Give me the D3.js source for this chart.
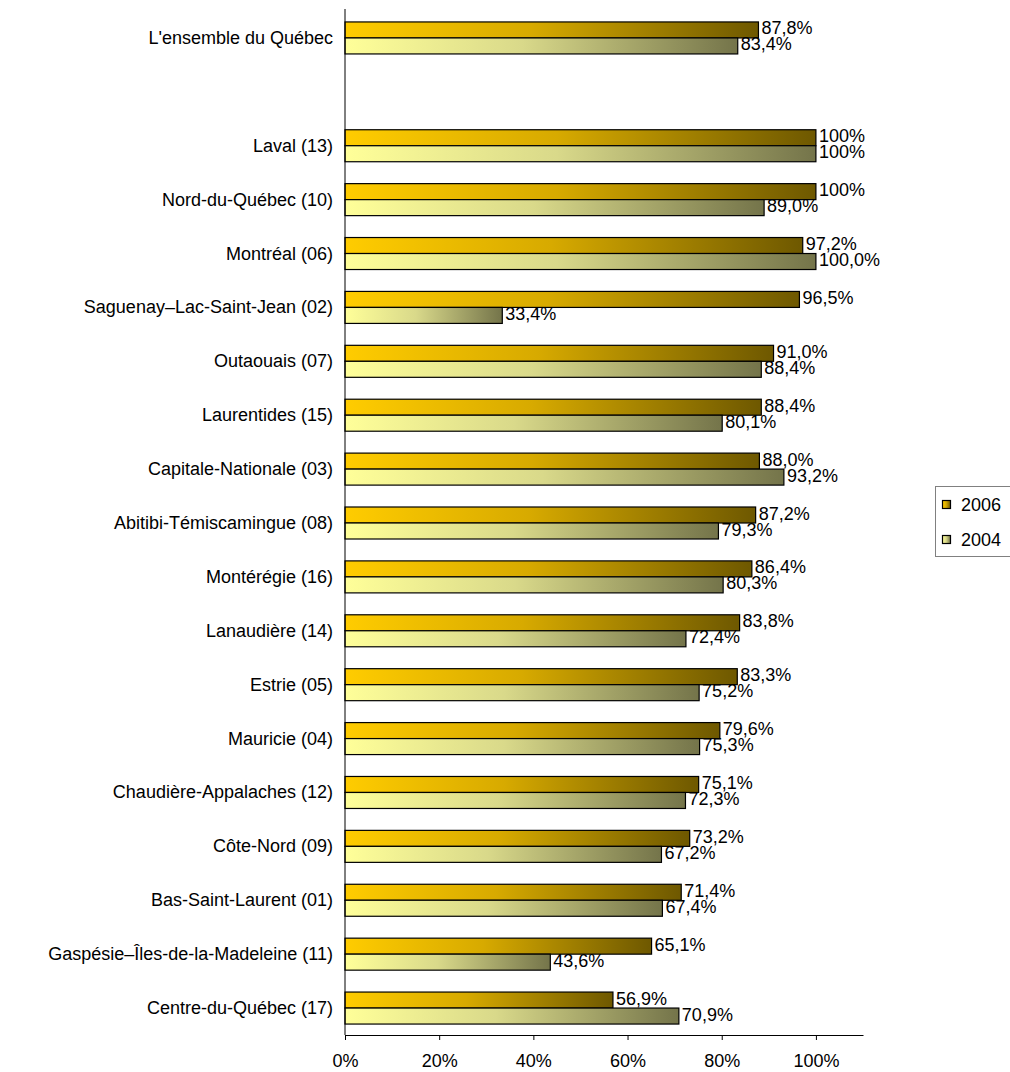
<!DOCTYPE html>
<html>
<head>
<meta charset="utf-8">
<script src="https://cdn.jsdelivr.net/npm/d3@7/dist/d3.min.js"></script>
<style>
  html, body { margin: 0; padding: 0; background: #fff; }
  svg { display: block; font-family: "Liberation Sans", Arial, sans-serif; }
</style>
</head>
<body>
<svg id="chart" width="1010" height="1072"></svg>
<script>
// Regions, top to bottom (an empty slot separates the provincial total)
const categories = [
  "L'ensemble du Québec", "",
  "Laval (13)", "Nord-du-Québec (10)", "Montréal (06)",
  "Saguenay–Lac-Saint-Jean (02)", "Outaouais (07)", "Laurentides (15)",
  "Capitale-Nationale (03)", "Abitibi-Témiscamingue (08)", "Montérégie (16)",
  "Lanaudière (14)", "Estrie (05)", "Mauricie (04)",
  "Chaudière-Appalaches (12)", "Côte-Nord (09)", "Bas-Saint-Laurent (01)",
  "Gaspésie–Îles-de-la-Madeleine (11)", "Centre-du-Québec (17)"
];
const values2006 = [87.8, null, 100, 100, 97.2, 96.5, 91.0, 88.4, 88.0, 87.2, 86.4, 83.8, 83.3, 79.6, 75.1, 73.2, 71.4, 65.1, 56.9];
const values2004 = [83.4, null, 100, 89.0, 100.0, 33.4, 88.4, 80.1, 93.2, 79.3, 80.3, 72.4, 75.2, 75.3, 72.3, 67.2, 67.4, 43.6, 70.9];
const labels2006 = ["87,8%", "", "100%", "100%", "97,2%", "96,5%", "91,0%", "88,4%", "88,0%", "87,2%", "86,4%", "83,8%", "83,3%", "79,6%", "75,1%", "73,2%", "71,4%", "65,1%", "56,9%"];
const labels2004 = ["83,4%", "", "100%", "89,0%", "100,0%", "33,4%", "88,4%", "80,1%", "93,2%", "79,3%", "80,3%", "72,4%", "75,2%", "75,3%", "72,3%", "67,2%", "67,4%", "43,6%", "70,9%"];
const seriesNames = ["2006", "2004"];
const xTicks = [0, 20, 40, 60, 80, 100];

const FONT = 18;
const svg = d3.select("#chart");

// Gradients for the two series (light on the left, dark at the bar end)
const defs = svg.append("defs");
const gradStops = {
  "2006": ["#FFCC00", "#D7AA00", "#6E5800"],
  "2004": ["#FFFF99", "#D9D98A", "#74744A"]
};
seriesNames.forEach(s => {
  const g = defs.append("linearGradient")
    .attr("id", "grad" + s)
    .attr("x1", "0%").attr("x2", "100%").attr("y1", "0%").attr("y2", "0%");
  g.append("stop").attr("offset", "0%").attr("stop-color", gradStops[s][0]);
  g.append("stop").attr("offset", "45%").attr("stop-color", gradStops[s][1]);
  g.append("stop").attr("offset", "100%").attr("stop-color", gradStops[s][2]);
});

const x = d3.scaleLinear().domain([0, 110]).range([345, 863]);
const y = d3.scaleBand().domain(d3.range(categories.length)).range([11, 1035]).padding(0);
const barH = 16;
const sub = d3.scaleBand().domain(seriesNames).range([-barH, barH]);

const rows = categories.map((c, i) => ({
  i, name: c,
  bars: [
    { s: "2006", v: values2006[i], label: labels2006[i] },
    { s: "2004", v: values2004[i], label: labels2004[i] }
  ]
}));

// Category labels
svg.append("g").selectAll("text")
  .data(rows)
  .join("text")
  .attr("x", 333)
  .attr("y", d => y(d.i) + y.bandwidth() / 2)
  .attr("text-anchor", "end")
  .attr("dominant-baseline", "central")
  .attr("font-size", FONT)
  .attr("fill", "#000")
  .text(d => d.name);

// Bars
const groups = svg.append("g").selectAll("g")
  .data(rows.filter(r => r.bars[0].v !== null))
  .join("g")
  .attr("transform", d => `translate(0,${y(d.i) + y.bandwidth() / 2})`);

groups.selectAll("rect")
  .data(d => d.bars)
  .join("rect")
  .attr("x", x(0))
  .attr("y", d => sub(d.s))
  .attr("width", d => x(d.v) - x(0))
  .attr("height", sub.bandwidth())
  .attr("fill", d => `url(#grad${d.s})`)
  .attr("stroke", "#000")
  .attr("stroke-width", 1.2);

// Value labels
groups.selectAll("text")
  .data(d => d.bars)
  .join("text")
  .attr("x", d => x(d.v) + 3)
  .attr("y", d => sub(d.s) + sub.bandwidth() / 2 - 1.5)
  .attr("dominant-baseline", "central")
  .attr("font-size", FONT)
  .attr("fill", "#000")
  .text(d => d.label);

// Axes
const xAxis = d3.axisBottom(x)
  .tickValues(xTicks)
  .tickFormat(d => d + "%")
  .tickSize(5)
  .tickSizeOuter(0);
const gx = svg.append("g").attr("transform", "translate(0,1035)").call(xAxis);
gx.select(".domain").attr("stroke", "#000").attr("stroke-width", 1);
gx.selectAll(".tick line").attr("stroke", "#000");
gx.selectAll(".tick text")
  .attr("font-size", FONT)
  .attr("font-family", "Liberation Sans, Arial, sans-serif")
  .attr("fill", "#000")
  .attr("y", 19);

svg.append("line")
  .attr("x1", x(0)).attr("x2", x(0))
  .attr("y1", 9).attr("y2", 1035)
  .attr("stroke", "#000").attr("stroke-width", 1);

// Legend
const legend = svg.append("g");
legend.append("rect")
  .attr("x", 935.5).attr("y", 486.5)
  .attr("width", 90).attr("height", 70)
  .attr("fill", "#fff")
  .attr("stroke", "#808080").attr("stroke-width", 1);
const legendY = d3.scalePoint().domain(seriesNames).range([505, 540]);
const li = legend.selectAll("g.item")
  .data(seriesNames)
  .join("g")
  .attr("class", "item")
  .attr("transform", s => `translate(0,${legendY(s)})`);
li.append("rect")
  .attr("x", 942.5).attr("y", -4.5)
  .attr("width", 8).attr("height", 8)
  .attr("fill", s => `url(#grad${s})`)
  .attr("stroke", "#000").attr("stroke-width", 1.2);
li.append("text")
  .attr("x", 961)
  .attr("y", 0)
  .attr("dominant-baseline", "central")
  .attr("font-size", FONT)
  .attr("fill", "#000")
  .text(s => s);
</script>
</body>
</html>
